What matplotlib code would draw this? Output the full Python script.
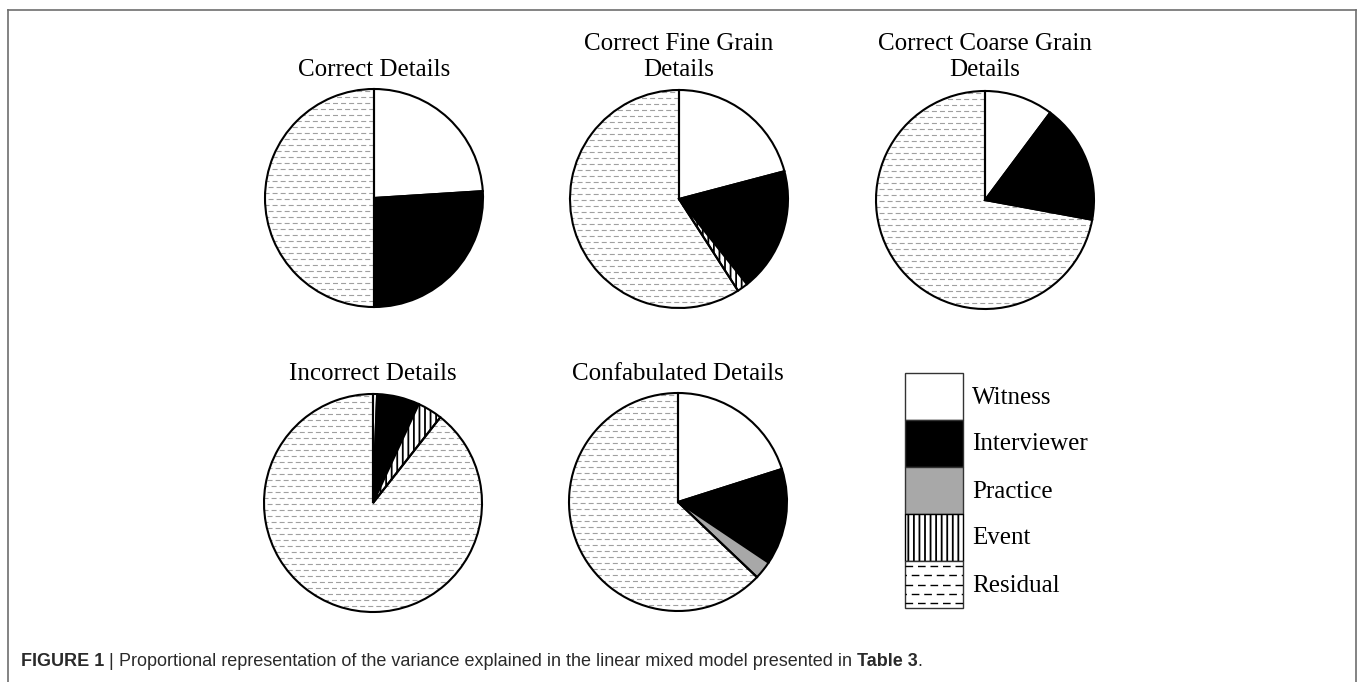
import matplotlib
matplotlib.use('Agg')
import matplotlib.pyplot as plt
import numpy as np
from matplotlib.patches import Rectangle

plt.rcParams['lines.scale_dashes'] = False
plt.rcParams['hatch.linewidth'] = 1.3

categories = ["Witness", "Interviewer", "Practice", "Event", "Residual"]
titles = ["Correct Details", "Correct Fine Grain\nDetails", "Correct Coarse Grain\nDetails",
          "Incorrect Details", "Confabulated Details"]
correct_details = [24.0, 26.0, 0.0, 0.0, 50.0]
fine_grain = [20.9, 18.4, 0.0, 1.6, 59.1]
coarse_grain = [10.2, 17.7, 0.0, 0.0, 72.1]
incorrect_details = [0.6, 6.3, 0.0, 3.7, 89.4]
confabulated_details = [20.1, 14.3, 2.7, 0.0, 62.9]
series = [correct_details, fine_grain, coarse_grain, incorrect_details, confabulated_details]

fills = ['white', 'black', '#a8a8a8', 'white', 'none']
hatches = [None, None, None, '|||', None]

W, H = 1360, 682
fig = plt.figure(figsize=(13.6, 6.82), dpi=100)
over = fig.add_axes([0, 0, 1, 1])
over.set_xlim(0, W)
over.set_ylim(H, 0)
over.axis('off')

serif = 'Liberation Serif'
centers = [(374, 198), (679, 199), (985, 200), (373, 503), (678, 502)]
r = 109
pad = 1.04


def dashes(ax, clip, y0, y1, step, on, off, color, lw, xr, zorder):
    ys = np.arange(y0, y1, step)
    for k, offs in enumerate([0.0, (on + off) / 2.0]):
        sub = ys[k::2]
        lc = ax.hlines(sub, xr[0], xr[1], colors=color, linewidth=lw,
                       linestyles=[(offs, (on, off))], zorder=zorder)
        lc.set_clip_path(clip)


for (cx, cy), vals, title in zip(centers, series, titles):
    R = r * pad
    ax = fig.add_axes([(cx - R) / W, (H - cy - R) / H, 2 * R / W, 2 * R / H])
    idx = [i for i, v in enumerate(vals) if v > 0]
    wedges, _ = ax.pie([vals[i] for i in idx], startangle=90, counterclock=False,
                       colors=[fills[i] for i in idx],
                       wedgeprops=dict(edgecolor='black', linewidth=1.5))
    for w, i in zip(wedges, idx):
        if hatches[i]:
            w.set_hatch(hatches[i])
        if categories[i] == 'Residual':
            w.set_facecolor('none')
            px = 1.0 / r
            dashes(ax, w, -1.0, 1.0, 6 * px, 3.6, 2.2, '#a0a0a0', 0.8, (-1.05, 1.05), 0.5)
    ax.set_xlim(-pad, pad)
    ax.set_ylim(-pad, pad)
    ax.set_aspect('equal')
    over.text(cx, 76 if cy < 300 else 380, title, ha='center', va='baseline', fontsize=18,
              family=serif, linespacing=1.25)

# legend
lx, ltop, lw_, lh = 905, 373, 58, 47
for k, cat in enumerate(categories):
    y = ltop + k * lh
    face = fills[k] if fills[k] != 'none' else 'white'
    rect = Rectangle((lx, y), lw_, lh, facecolor=face, edgecolor='#333333',
                     linewidth=1.0, hatch=hatches[k], zorder=2)
    if hatches[k]:
        rect.set_edgecolor('black')
    over.add_patch(rect)
    if cat == 'Residual':
        dashes(over, rect, y + 5, y + lh, 9.3, 5.5, 3.5, 'black', 1.0, (lx, lx + lw_), 3)
    over.text(lx + lw_ + 9, y + lh / 2 + 1, cat, ha='left', va='center', fontsize=18,
              family=serif, zorder=3)

# frame
fc = '#6e6e6e'
over.plot([8, 8], [H, 10], color=fc, lw=1.2)
over.plot([8, 1356], [10, 10], color=fc, lw=1.2)
over.plot([1356, 1356], [10, H], color=fc, lw=1.2)

# caption
fig.canvas.draw()
rend = fig.canvas.get_renderer()
parts = [("FIGURE 1", 'bold'), (" | ", 'normal'),
         ("Proportional representation of the variance explained in the linear mixed model presented in ", 'normal'),
         ("Table 3", 'bold'), (".", 'normal')]
x = 21
inv = over.transData.inverted()
for txt, wt in parts:
    t = over.text(x, 661, txt, ha='left', va='center', fontsize=13, family='Liberation Sans',
                  fontweight=wt, color='#2a2a2a')
    bb = t.get_window_extent(renderer=rend)
    x0 = inv.transform((bb.x0, bb.y0))[0]
    x1 = inv.transform((bb.x1, bb.y0))[0]
    x = x + (x1 - x0)

fig.savefig('out.png', dpi=100)
